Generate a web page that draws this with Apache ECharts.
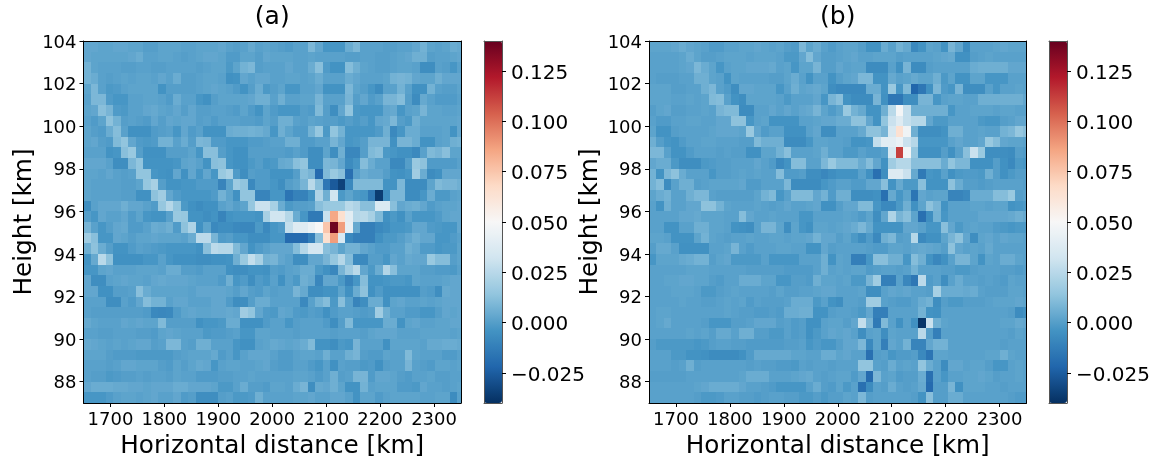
<!DOCTYPE html>
<html><head><meta charset="utf-8">
<style>html,body{margin:0;padding:0;background:#fff}#c{width:1158px;height:461px}</style>
<script src="https://cdn.jsdelivr.net/npm/echarts@6/dist/echarts.min.js"></script>
</head><body><div id="c"></div>
<script>
// values in thousandths, rows from the top (103.5 km) down to the bottom (87 km)
const panelA = [
[3,3,2,2,3,3,2,2,0,0,2,2,2,1,1,2,2,2,3,1,0,1,4,1,2,1,0,-1,1,1,9,3,-3,-3,-3,5,9,1,1,1,0,0,1,1,3,7,2,1,2,5],
[3,2,2,2,2,2,3,5,1,1,2,2,1,0,1,2,3,3,2,-1,-1,2,2,0,3,2,2,2,1,1,2,1,1,1,1,0,0,1,1,0,0,1,2,3,6,6,0,1,1,2],
[7,2,1,1,1,0,0,1,1,0,0,1,1,1,1,0,1,2,2,-2,2,7,9,0,1,1,1,3,1,1,5,12,-1,-4,-4,11,6,2,1,0,0,1,2,2,1,-6,-6,1,0,-3],
[7,5,1,0,1,2,1,2,2,1,3,1,5,0,0,1,2,2,1,-5,-4,3,1,3,3,1,1,2,2,1,2,5,1,1,1,5,3,1,1,1,2,7,8,7,3,2,2,6,3,3],
[2,9,1,-2,-1,1,2,2,2,2,-4,0,0,0,0,1,2,3,2,1,-1,-4,0,5,-2,0,2,-3,-3,1,1,3,-4,-4,-4,9,2,0,-3,-7,1,1,7,1,-5,-5,7,1,0,0],
[1,9,9,-1,-3,-3,1,1,2,2,1,-1,5,1,1,-3,-5,0,2,2,2,2,3,6,6,1,6,1,1,2,2,8,1,1,1,8,0,3,-1,1,8,8,11,0,-7,4,1,-1,-1,-1],
[2,3,12,8,-1,-2,1,1,3,4,2,1,3,0,3,0,0,1,1,0,-1,2,-1,-4,2,-1,-3,-3,-3,0,-1,10,0,-6,3,14,-2,-3,-3,-3,3,4,-3,1,2,8,2,2,1,1],
[1,-1,2,13,7,0,1,0,-1,3,0,3,2,3,3,0,1,-1,1,1,1,0,0,-1,2,0,6,6,1,0,2,1,0,0,-2,0,-2,0,-3,3,4,9,0,-2,6,2,2,2,2,2],
[2,0,-1,5,11,1,-5,-5,-5,-1,0,1,-3,3,-1,1,-4,-4,-4,5,6,6,7,6,4,-3,6,2,-1,-1,7,15,-2,14,7,-3,-3,-3,-3,-1,6,-8,-3,5,5,1,1,1,2,-4],
[2,3,0,-1,10,14,3,-1,-2,-1,7,7,1,5,0,9,8,-1,-1,-3,-3,-3,-1,-1,0,1,1,6,6,-1,-1,1,1,8,3,-3,-2,0,8,8,8,-5,8,8,5,-4,-4,1,2,6],
[1,1,1,-4,-3,12,16,0,-5,-5,-5,0,0,0,2,-3,12,12,0,-3,-5,-5,0,0,0,0,0,-1,1,-1,-6,-6,2,-6,6,-9,-9,0,10,12,-2,-3,-5,-5,-8,1,10,8,12,2],
[3,3,3,1,-6,-6,9,14,-4,-4,-4,-4,-3,2,3,1,-4,12,13,-3,-5,-5,-2,0,-3,-2,4,5,12,14,-6,-6,9,8,3,-7,-3,11,5,1,1,-8,-8,0,16,13,-1,-1,-1,-1],
[2,2,1,3,1,0,1,14,14,-3,-4,-5,3,-5,3,-3,3,-3,16,20,-1,-6,0,-1,-1,-4,-4,-4,0,11,8,-20,10,16,12,-18,1,5,3,3,0,-4,-5,-3,18,5,-7,-5,3,3],
[2,1,1,1,1,0,0,2,15,20,0,-4,-4,-3,-3,-1,-1,-1,-10,2,17,14,-8,-1,-1,-3,-6,0,2,8,25,12,-15,-26,-34,-8,10,10,10,10,-4,-4,9,-7,-7,-7,2,10,8,8],
[2,1,1,1,1,0,0,-5,-5,13,18,3,-1,-3,-3,-3,-3,-1,7,2,-5,14,14,-10,-10,-3,-3,-16,-11,-11,-4,22,6,32,-2,2,-2,-3,-14,-36,-6,9,9,-7,-7,-3,5,-2,-2,1],
[-6,1,3,3,3,6,3,3,1,-1,15,24,14,-2,-5,-7,-5,-5,1,3,0,2,15,30,30,20,5,-2,0,0,1,12,16,16,16,25,22,12,12,36,36,12,3,5,6,3,-1,1,2,2],
[0,-3,3,1,1,3,-1,2,-3,-4,-4,1,16,15,-4,-4,-6,-4,-10,-4,-3,-3,-3,-4,20,32,32,24,5,-3,-14,-14,30,85,65,40,24,25,20,10,-5,-2,-5,1,-3,-3,-3,-1,2,3],
[8,1,-3,0,3,4,-1,-1,1,5,4,6,-1,13,22,-5,2,-8,-6,-6,-8,-9,-9,-2,-8,-3,-1,28,38,38,44,50,75,138,88,42,4,-12,-12,-8,-6,-3,-3,-2,3,3,-1,-2,-3,-3],
[18,12,-3,-3,3,2,0,2,2,3,2,2,2,1,5,26,26,8,-1,0,-3,-3,-6,-6,-6,-3,-3,-20,-20,-20,-12,12,65,88,36,-8,-12,-12,-12,-5,-2,-2,0,3,6,3,3,-3,-3,-1],
[6,13,5,0,-4,-4,-1,1,0,-1,-2,-3,-3,-3,-3,-5,12,26,24,24,10,3,-4,-1,1,3,3,3,11,24,34,34,12,8,2,7,7,3,1,-1,-1,1,1,6,4,-1,-1,-3,-2,-2],
[-4,4,25,13,-5,-5,-5,-5,-3,-3,1,-3,-5,-5,-5,-6,-6,-5,-5,-4,6,16,28,20,7,8,3,1,-6,-6,3,3,8,15,24,11,-8,-8,0,0,-3,3,1,4,3,3,16,11,11,0],
[-3,-3,2,3,1,1,1,2,2,2,1,5,5,0,0,-1,1,1,1,-5,-6,-6,-4,-4,-5,0,-1,1,2,5,5,-2,-5,-9,8,17,25,3,-2,5,23,12,2,2,2,0,0,-1,-1,-2],
[3,-6,-6,1,2,3,2,2,1,3,4,3,3,3,2,1,1,1,-1,6,-3,-1,-6,-1,-3,1,-5,1,-2,6,4,-9,3,3,-2,-10,-3,11,-4,-4,-3,-2,-2,-3,2,1,1,1,2,3],
[3,3,-5,-5,0,0,1,12,5,2,2,2,2,2,1,3,3,3,3,2,0,3,0,-1,2,0,1,1,8,4,-6,-6,-4,-4,2,-5,5,13,-5,-1,-5,-5,-5,-5,-5,0,-1,-6,4,3],
[1,1,1,-6,-6,1,-1,3,11,7,7,1,3,3,1,1,1,3,3,-1,-6,-6,0,5,5,1,1,1,1,-8,1,7,11,-2,12,1,-10,-6,5,5,-5,2,3,1,1,2,1,2,3,3],
[1,0,0,0,0,0,0,0,-1,-8,-9,-8,-1,2,3,2,2,3,3,4,3,18,14,3,-1,-2,3,2,-1,-2,0,-1,-5,-1,1,1,0,-1,0,18,6,1,1,-1,-1,-3,-3,0,3,2],
[4,2,1,1,1,3,2,3,2,2,10,0,0,0,0,-5,-3,-3,-2,5,5,-5,-5,-5,-1,1,1,-3,0,1,1,1,-1,-6,0,10,-3,-3,-3,-3,5,5,-4,2,3,1,1,2,2,3],
[1,1,0,0,1,1,1,0,0,-1,2,3,2,1,1,1,-2,-1,-1,0,1,-3,-3,2,2,1,1,1,0,1,1,1,1,0,1,1,1,0,2,3,3,3,1,1,1,2,2,2,2,1],
[4,3,2,1,2,1,2,3,3,0,1,9,9,1,0,6,6,1,1,1,-3,-5,-5,1,2,4,3,2,3,5,10,-4,-4,-6,-2,-3,8,1,1,1,-5,2,2,2,2,1,4,4,5,5],
[2,2,2,0,-1,-1,-1,-2,-2,-2,-2,-2,0,1,2,2,2,4,-1,1,-3,1,3,3,3,1,-1,-1,1,2,2,1,6,1,1,6,8,0,-1,-1,2,1,1,10,2,1,1,1,-1,-1],
[1,1,1,0,1,3,3,2,2,2,0,-1,2,0,2,4,3,-3,1,2,2,1,1,2,3,0,-1,-1,1,1,-1,-3,1,-5,1,0,0,-2,-1,-5,0,1,1,8,1,0,-1,2,2,1],
[1,0,0,-2,-1,0,0,1,0,1,1,0,2,1,1,-1,-1,-1,0,0,1,1,2,1,1,1,1,1,2,2,1,-1,1,6,0,1,8,8,-1,3,3,2,0,-1,1,1,2,0,0,1],
[3,5,5,5,4,4,3,3,2,3,3,3,5,5,3,3,3,2,-2,-2,1,5,0,0,-1,2,2,1,5,8,-6,4,3,6,2,-4,-4,7,1,2,2,2,-1,-1,-2,3,1,1,0,1],
[-3,-3,-3,-1,1,2,2,1,2,3,1,1,3,-1,0,-6,-6,-6,0,1,-2,-2,-1,6,1,1,1,1,2,2,3,1,1,3,3,1,-4,2,2,-1,1,2,2,2,2,1,1,2,2,-7]
];
const sliverA = [4,3,1,3,2,1,2,3,3,7,2,1,3,6,2,3,3,3,1,2,2,1,3,3,3,3,3,2,4,1,2,1,2,1];
const panelB = [
[2,2,2,3,5,3,2,1,-1,-1,1,1,2,2,3,2,1,2,0,-1,9,2,5,1,-1,1,2,2,0,-4,-4,5,1,7,4,-8,-4,2,1,-4,8,3,-7,1,1,1,2,3,2,2],
[1,1,1,1,2,5,2,0,0,1,2,2,2,1,2,2,2,1,-2,-2,3,11,3,0,0,1,2,3,1,1,2,2,2,0,1,1,1,1,2,3,4,-5,-5,0,1,2,1,1,1,1],
[1,1,1,1,2,3,9,5,2,-3,1,2,2,3,3,3,4,1,2,-3,2,2,8,0,0,3,1,2,2,-7,-7,-7,1,-5,8,-7,-7,0,1,1,1,1,1,5,6,6,6,6,3,3],
[1,0,0,0,1,1,6,6,2,1,-4,2,1,1,1,1,0,0,2,5,1,-4,1,1,-4,0,2,3,9,9,-4,-4,4,1,2,4,2,2,6,-2,2,-4,-4,2,2,-3,-3,-3,1,1],
[2,2,2,0,0,1,1,6,9,1,-1,-6,3,3,2,2,2,-3,1,6,2,3,4,2,-6,-8,-8,-8,-8,5,5,-4,16,-3,10,-22,-15,-5,9,-1,-3,8,-6,-6,-6,1,-3,1,1,2],
[2,2,2,1,1,2,1,2,10,11,1,-4,-6,2,2,2,2,1,-2,1,1,1,3,-3,8,12,-4,-7,-7,-7,8,-5,-15,-15,-6,-6,8,8,-3,1,2,2,1,1,6,6,6,6,6,6],
[0,2,3,0,0,1,1,2,1,8,10,10,-7,-7,1,1,3,1,3,1,3,4,8,2,-1,2,16,7,4,-4,-4,6,25,48,28,6,6,6,6,6,-3,1,1,2,2,2,1,2,2,1],
[1,-1,-1,1,1,2,2,1,1,3,3,13,13,-3,1,2,-4,-4,-4,-4,1,1,2,3,3,5,5,13,13,3,-4,14,30,38,28,24,24,3,-2,-2,1,1,1,1,-2,-3,-3,0,1,3],
[2,-4,-4,0,1,1,1,1,2,3,3,3,2,16,3,-1,1,1,-5,-5,-5,1,3,-6,-6,1,1,1,4,13,13,8,35,64,46,6,-6,-6,-6,-4,6,6,1,1,2,1,1,7,9,15],
[6,0,-3,-4,-1,1,1,2,2,1,1,1,0,0,10,6,6,6,-7,-7,-7,-3,2,2,1,1,0,-4,-4,-3,28,40,40,44,30,24,-3,-3,-3,-3,1,3,1,1,3,16,11,3,2,2],
[9,9,1,-4,-4,-1,1,1,1,0,1,0,0,-5,-5,2,2,7,12,1,1,1,2,6,1,1,-2,-2,1,-1,-1,1,35,112,47,15,-5,-5,-5,0,-5,1,12,30,16,-6,-6,-6,-7,0],
[3,5,5,-2,-6,-6,-6,-2,-1,0,0,1,1,1,3,1,-1,-8,-4,11,11,1,1,9,16,10,10,10,5,11,3,-5,18,24,24,12,12,12,12,5,14,9,9,-5,-5,-5,0,-5,-8,-2],
[7,-4,9,13,5,1,1,1,-3,0,0,1,2,1,2,1,1,11,-1,-1,0,-6,-6,-9,-6,-4,-4,-4,1,-5,-18,-6,38,38,30,4,-14,-3,-4,1,-5,-2,-1,-1,-2,6,0,-5,-2,0],
[7,11,-7,1,6,6,0,1,2,2,2,2,3,-1,-1,1,1,1,9,-7,-7,-7,-7,-3,-1,1,1,-1,-1,3,3,12,-4,4,-2,-2,12,-4,-4,-4,13,5,0,0,-1,0,1,1,1,1],
[2,5,7,1,1,6,9,9,1,0,0,0,0,0,2,7,10,-3,1,10,10,10,3,7,-1,6,6,-6,-6,-6,-5,-18,4,-3,2,-16,3,1,2,2,-10,-10,-8,5,5,5,11,11,16,0],
[1,-4,6,1,1,3,3,13,13,7,2,1,1,1,2,1,0,1,3,1,1,2,3,-5,-5,0,3,3,10,10,-3,-8,-8,-2,6,-5,2,13,8,-4,1,1,1,2,2,1,2,2,-4,-3],
[1,1,1,1,3,3,4,2,2,2,1,1,11,3,1,1,2,1,1,1,-3,-3,1,1,1,1,2,1,-1,2,-6,3,22,8,12,2,-18,-6,7,-3,1,1,1,1,3,3,3,3,4,6],
[1,1,-4,-4,1,1,6,6,2,2,1,-4,-5,-6,1,8,8,2,-6,2,-3,-5,2,2,1,2,3,5,9,4,-4,-4,-4,-4,3,3,1,-3,-3,12,3,-2,1,2,1,1,-1,-2,-3,-2],
[2,2,1,-4,-4,-4,2,7,2,1,0,1,1,2,1,1,2,2,1,2,2,3,7,3,3,0,2,-2,-6,-1,-8,6,9,0,1,24,-8,-5,-5,2,8,13,3,-6,2,3,1,3,2,2],
[0,4,4,1,-5,-5,-5,-5,1,1,2,8,1,-1,1,1,1,2,2,1,1,-4,-4,3,0,1,1,1,1,0,-1,-1,2,2,1,3,4,3,2,0,13,3,1,2,1,4,1,1,1,1],
[-3,2,2,2,4,5,7,7,0,2,3,-2,-2,-2,-2,1,-3,-3,-3,-3,1,1,1,6,-4,2,1,-12,-12,-3,12,12,6,6,-3,11,6,-4,-9,-5,1,8,8,2,-4,2,1,5,5,2],
[1,1,1,1,1,2,2,2,1,1,1,1,1,0,0,0,0,0,-1,-1,-1,-1,1,6,1,2,1,2,2,-1,0,1,1,0,1,7,1,1,1,0,0,-2,-2,0,1,1,1,0,0,-1],
[1,1,2,2,3,3,2,2,0,-1,1,1,5,5,5,2,2,-3,-3,0,0,-1,6,2,2,1,2,-2,-2,8,18,-12,-12,1,-9,-15,26,-1,1,-6,1,5,1,1,0,1,0,-1,2,1],
[1,1,1,2,2,2,1,-2,-2,0,1,2,1,1,1,1,0,2,0,0,1,1,2,3,3,1,1,1,2,-6,-6,1,3,2,3,1,1,0,20,5,5,5,4,5,1,0,0,0,2,2],
[1,1,1,1,2,1,1,0,0,1,2,1,2,-1,1,0,0,0,1,5,5,5,-2,1,-4,-6,1,1,0,18,18,1,0,-1,-1,1,5,7,-6,0,-2,-2,0,0,0,1,2,2,2,3],
[1,2,2,1,1,1,1,1,1,1,2,1,0,0,-1,-1,0,-1,5,5,6,6,-4,-4,0,1,1,0,-2,3,-12,-12,1,1,1,1,7,-4,-5,1,1,1,1,1,1,1,1,1,0,-7],
[1,2,4,1,1,1,1,0,-3,-3,-3,0,0,1,3,3,3,0,1,-1,0,-5,-5,1,2,2,0,3,28,8,-14,10,1,-5,1,-5,-38,30,6,2,1,1,1,1,1,1,1,2,2,4],
[1,1,1,1,1,2,1,2,0,4,4,1,6,6,0,0,-2,-2,1,-1,0,-5,-2,1,3,2,3,1,-6,1,2,-6,2,1,1,1,25,0,-12,1,1,1,1,1,1,1,1,1,0,2],
[0,-2,-2,-2,-2,-2,-3,-2,0,1,1,0,0,-1,-1,-1,-1,-1,0,0,1,-3,-1,-3,-3,0,3,3,9,-8,2,-12,3,1,7,-10,-10,3,7,7,1,1,1,1,1,1,1,0,1,1],
[1,1,1,-2,-2,-4,-4,-5,-7,-7,-7,-7,-5,-1,4,4,4,4,4,2,2,1,1,5,5,2,3,1,1,-18,0,1,-3,-1,-1,0,-8,-16,2,2,1,1,1,1,1,2,2,6,2,1],
[1,1,1,0,1,6,0,1,1,1,1,1,1,0,1,0,0,-1,-1,-2,1,0,1,1,0,1,1,1,14,14,1,0,5,1,2,1,14,5,1,-7,3,3,1,2,2,0,-3,-3,1,2],
[0,0,0,0,0,1,1,1,1,1,1,1,2,5,5,5,1,1,1,2,3,4,1,0,1,2,2,-1,3,-20,9,1,2,-1,0,0,5,-18,1,-3,1,1,2,2,3,2,0,1,1,2],
[1,1,1,1,1,1,2,3,5,5,5,5,3,1,1,0,-1,-3,-3,-3,-3,1,5,0,-1,2,-2,1,-18,-7,1,0,5,1,0,1,4,-20,0,0,8,-5,2,2,2,1,1,0,1,1],
[1,1,1,1,1,1,0,-2,-2,-1,1,1,0,0,-1,0,1,1,0,0,-2,-2,0,-2,0,0,2,1,9,0,1,1,1,1,1,0,-4,12,0,0,5,5,1,1,1,1,1,1,0,-1]
];
const sliverB = [2,1,3,1,1,3,1,3,12,1,-1,-3,0,0,1,-2,4,-2,1,1,1,0,1,1,2,-5,3,1,1,1,1,1,1,-1];
const xTicks = [1700,1800,1900,2000,2100,2200,2300];
const yTicks = [88,90,92,94,96,98,100,102,104];
const cbTicks = [-0.025,0,0.025,0.05,0.075,0.1,0.125];
const titles = ['(a)','(b)'];
const xName = 'Horizontal distance [km]';
const yName = 'Height [km]';
const rdbu = ['#053061','#2166ac','#4393c3','#92c5de','#d1e5f0','#f7f7f7','#fddbc7','#f4a582','#d6604d','#b2182b','#67001f'];

const FONT = '"DejaVu Sans"';
const X0 = 1650, X1 = 2350, Y0 = 87, Y1 = 104;
const DX = (X1-X0)/50.5, DY = 0.5;   // 50.5 columns are visible, the last one is cut by the frame
const lefts = [83.5,649], cbLefts = [484,1049], TOP = 41, W = 377.5, H = 362, CW = 18;
const line = {lineStyle:{color:'#000',width:1}};
const none = {show:false};
const richLabel = (size,pad)=>({a:{fontFamily:FONT,fontSize:size,color:'#000',padding:[pad,0,0,0]}});
function renderCell(params,api){
  const x = api.value(0), y = api.value(1);
  const a = api.coord([x-DX/2,y+DY/2]), b = api.coord([x+DX/2,y-DY/2]);
  const l = Math.round(a[0]), t = Math.round(a[1]);
  const shape = echarts.graphic.clipRectByRect(
    {x:l,y:t,width:Math.round(b[0])-l,height:Math.round(b[1])-t},
    {x:params.coordSys.x,y:params.coordSys.y,width:params.coordSys.width,height:params.coordSys.height});
  return shape && {type:'rect',shape,style:{fill:api.visual('color')},silent:true};
}
const opt = {animation:false,backgroundColor:'#fff',textStyle:{fontFamily:FONT},
  title:[],grid:[],xAxis:[],yAxis:[],series:[],visualMap:[]};
[[panelA,sliverA],[panelB,sliverB]].forEach(([m0,sl],p)=>{
  const m = m0.map((row,r)=>row.concat(sl[r]));
  const nR = m.length, nC = m[0].length;
  opt.title.push({text:titles[p],left:lefts[p]+W/2,top:5,padding:0,textAlign:'center',
    textStyle:{fontFamily:FONT,fontSize:25,fontWeight:'normal',color:'#000'}});
  const g = opt.grid.length;
  opt.grid.push({left:lefts[p],top:TOP,width:W,height:H,outerBoundsMode:'none'});
  const xi = opt.xAxis.length, yi = opt.yAxis.length;
  opt.xAxis.push({type:'value',gridIndex:g,position:'bottom',min:X0,max:X1,z:5,
    name:xName,nameLocation:'middle',nameGap:29,nameTextStyle:{fontFamily:FONT,fontSize:24.7,color:'#000'},
    axisLine:{show:true,onZero:false,...line},splitLine:none,
    axisTick:{show:true,length:4,customValues:xTicks,...line},
    axisLabel:{show:true,customValues:xTicks,fontFamily:FONT,fontSize:18,color:'#000',margin:8,formatter:v=>String(v)}});
  opt.yAxis.push({type:'value',gridIndex:g,position:'left',min:Y0,max:Y1,z:5,
    name:yName,nameLocation:'middle',nameGap:46,nameRotate:90,nameTextStyle:{fontFamily:FONT,fontSize:24.7,color:'#000'},
    axisLine:{show:true,onZero:false,...line},splitLine:none,
    axisTick:{show:true,length:4,customValues:yTicks,...line},
    axisLabel:{show:true,customValues:yTicks,fontFamily:FONT,fontSize:18,color:'#000',margin:7,
      formatter:v=>'{a|'+v+'}',rich:richLabel(18,4)}});
  opt.xAxis.push({type:'value',gridIndex:g,position:'top',min:X0,max:X1,z:5,axisLine:{show:true,onZero:false,...line},axisTick:none,axisLabel:none,splitLine:none});
  opt.yAxis.push({type:'value',gridIndex:g,position:'right',min:Y0,max:Y1,z:5,axisLine:{show:true,onZero:false,...line},axisTick:none,axisLabel:none,splitLine:none});
  const data = [];
  for(let r=0;r<nR;r++)for(let c=0;c<nC;c++)
    data.push([X0+(c+0.5)*DX, Y0+(nR-1-r+0.5)*DY, m[r][c]/1000]);
  opt.series.push({type:'custom',xAxisIndex:xi,yAxisIndex:yi,data,silent:true,progressive:0,clip:true,
    encode:{x:0,y:1},renderItem:renderCell});
  opt.visualMap.push({type:'continuous',seriesIndex:p,dimension:2,min:-0.04,max:0.14,show:true,calculable:false,hoverLink:false,
    left:cbLefts[p],top:TOP,itemWidth:CW,itemHeight:H,padding:0,showLabel:false,text:null,orient:'vertical',borderRadius:0,inRange:{color:rdbu}});
  // colour-bar axis
  const gc = opt.grid.length;
  const grey = {lineStyle:{color:'#555',width:1}};
  opt.grid.push({left:cbLefts[p],top:TOP,width:CW,height:H,show:false,outerBoundsMode:'none'});
  opt.xAxis.push({type:'category',gridIndex:gc,position:'top',data:['c'],z:6,axisLine:{show:true,onZero:false,...grey},axisTick:none,axisLabel:none});
  opt.xAxis.push({type:'category',gridIndex:gc,position:'bottom',data:['c'],z:6,axisLine:{show:true,onZero:false,...grey},axisTick:none,axisLabel:none});
  opt.yAxis.push({type:'category',gridIndex:gc,position:'left',data:['c'],z:6,axisLine:{show:true,onZero:false,...grey},axisTick:none,axisLabel:none});
  opt.yAxis.push({type:'value',gridIndex:gc,position:'right',min:-0.04,max:0.14,z:6,
    axisLine:{show:true,onZero:false,...grey},splitLine:none,
    axisTick:{show:true,length:4,customValues:cbTicks,...line},
    axisLabel:{show:true,customValues:cbTicks,fontFamily:FONT,fontSize:20,color:'#000',margin:9,
      formatter:v=>'{a|'+v.toFixed(3).replace('-','\u2212')+'}',rich:richLabel(20,5)}});
});
const chart = echarts.init(document.getElementById('c'),null,{renderer:'canvas'});
chart.setOption(opt);
</script></body></html>
